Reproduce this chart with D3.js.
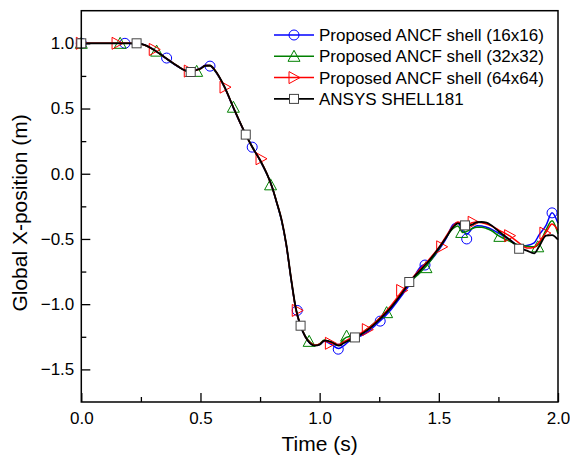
<!DOCTYPE html>
<html>
<head>
<meta charset="UTF-8">
<title>Global X-position vs time</title>
<script src="https://d3js.org/d3.v7.min.js"></script>
<style>
    body { margin: 0; background: #fff; }
    text { font-family: Arial, "Liberation Sans", sans-serif; fill: #000; }
    .tick text { font-size: 17px; }
    .axis-title { font-size: 21px; }
    .legend text { font-size: 17px; }
</style>
</head>
<body>
<div id="chart"></div>
<script>
// time samples (s), shared by all four series
const time = [0, 0.1, 0.2, 0.25, 0.3, 0.35, 0.4, 0.45, 0.5, 0.52,
    0.54, 0.56, 0.6, 0.64, 0.69, 0.72, 0.75, 0.8, 0.82, 0.84,
    0.86, 0.88, 0.9, 0.92, 0.94, 0.96, 0.98, 1.0, 1.02, 1.05,
    1.08, 1.1, 1.12, 1.15, 1.2, 1.25, 1.3, 1.35, 1.38, 1.42,
    1.46, 1.5, 1.53, 1.56, 1.58, 1.6, 1.62, 1.64, 1.66, 1.68,
    1.7, 1.72, 1.75, 1.8, 1.84, 1.87, 1.9, 1.92, 1.95, 1.975, 2.0];

const ancf16 = [1.0, 1.0, 1.0, 0.995, 0.957, 0.89, 0.828, 0.787, 0.81, 0.832,
    0.828, 0.79, 0.665, 0.495, 0.30, 0.2, 0.10, -0.10, -0.225, -0.36,
    -0.55, -0.81, -1.04, -1.17, -1.25, -1.30, -1.315, -1.31, -1.285, -1.31,
    -1.34, -1.32, -1.29, -1.265, -1.215, -1.135, -1.04, -0.92, -0.845, -0.72,
    -0.675, -0.585, -0.50, -0.39, -0.375, -0.44, -0.46, -0.42, -0.398, -0.40,
    -0.41, -0.425, -0.455, -0.51, -0.555, -0.55, -0.53, -0.47, -0.395, -0.30, -0.38];

const ancf32 = [1.0, 1.0, 1.0, 0.995, 0.953, 0.892, 0.83, 0.786, 0.806, 0.828,
    0.828, 0.792, 0.668, 0.5, 0.30, 0.198, 0.103, -0.098, -0.22, -0.355,
    -0.545, -0.805, -1.035, -1.165, -1.245, -1.29, -1.315, -1.305, -1.275, -1.295,
    -1.315, -1.27, -1.25, -1.25, -1.19, -1.11, -1.02, -0.90, -0.83, -0.76,
    -0.68, -0.575, -0.49, -0.42, -0.40, -0.45, -0.44, -0.42, -0.41, -0.41,
    -0.42, -0.435, -0.475, -0.52, -0.55, -0.555, -0.56, -0.54, -0.43, -0.36, -0.46];

const ancf64 = [1.0, 1.0, 1.0, 0.995, 0.955, 0.893, 0.83, 0.786, 0.805, 0.83,
    0.83, 0.795, 0.668, 0.5, 0.30, 0.195, 0.108, -0.10, -0.22, -0.35,
    -0.545, -0.80, -1.04, -1.16, -1.25, -1.295, -1.315, -1.305, -1.28, -1.30,
    -1.31, -1.29, -1.27, -1.245, -1.19, -1.11, -1.01, -0.89, -0.82, -0.735,
    -0.655, -0.565, -0.48, -0.40, -0.37, -0.385, -0.39, -0.375, -0.37, -0.375,
    -0.385, -0.40, -0.43, -0.48, -0.535, -0.57, -0.565, -0.525, -0.45, -0.385, -0.435];

const ansys = [1.0, 1.0, 1.0, 0.995, 0.955, 0.893, 0.83, 0.785, 0.805, 0.828,
    0.83, 0.795, 0.67, 0.5, 0.30, 0.195, 0.105, -0.10, -0.22, -0.35,
    -0.54, -0.80, -1.03, -1.165, -1.25, -1.30, -1.318, -1.31, -1.28, -1.29,
    -1.317, -1.30, -1.28, -1.255, -1.20, -1.12, -1.025, -0.905, -0.825, -0.745,
    -0.665, -0.57, -0.49, -0.41, -0.38, -0.39, -0.398, -0.39, -0.372, -0.37,
    -0.375, -0.395, -0.44, -0.51, -0.57, -0.59, -0.61, -0.56, -0.475, -0.47, -0.505];

// symbol positions [t, x] as placed on each curve
const marks16 = [[0, 1.0], [0.183, 1.0], [0.358, 0.887], [0.54, 0.825], [0.717, 0.204],
    [0.906, -1.048], [1.078, -1.345], [1.254, -1.13], [1.442, -0.70], [1.617, -0.50], [1.975, -0.30]];
const marks32 = [[0, 1.0], [0.163, 1.0], [0.316, 0.94], [0.484, 0.785], [0.638, 0.51],
    [0.794, -0.085], [0.956, -1.285], [1.113, -1.245], [1.281, -1.065], [1.446, -0.72],
    [1.596, -0.45], [1.756, -0.48], [1.915, -0.56]];
const marks64 = [[0, 1.0], [0.15, 1.0], [0.306, 0.953], [0.453, 0.787], [0.603, 0.664],
    [0.754, 0.115], [0.906, -1.048], [1.045, -1.30], [1.2, -1.195], [1.344, -0.895],
    [1.512, -0.56], [1.644, -0.372], [1.797, -0.475], [1.945, -0.455]];
const marksAnsys = [[0, 1.0], [0.232, 1.0], [0.459, 0.78], [0.69, 0.30], [0.92, -1.165],
    [1.148, -1.255], [1.376, -0.83], [1.61, -0.396], [1.837, -0.575]];

const seriesNames = ["Proposed ANCF shell (16x16)", "Proposed ANCF shell (32x32)",
    "Proposed ANCF shell (64x64)", "ANSYS SHELL181"];
const xTicks = [0, 0.5, 1.0, 1.5, 2.0];
const xMinor = [0.25, 0.75, 1.25, 1.75];
const yTicks = [-1.5, -1.0, -0.5, 0.0, 0.5, 1.0];
const yMinor = [-1.25, -0.75, -0.25, 0.25, 0.75];

const W = 570, H = 458;
const margin = { top: 10.7, right: 12, bottom: 56, left: 81.3 };
const width = W - margin.left - margin.right,
      height = H - margin.top - margin.bottom;

const svg = d3.select("#chart").append("svg")
    .attr("width", W).attr("height", H);
const g = svg.append("g")
    .attr("transform", `translate(${margin.left},${margin.top})`);

const x = d3.scaleLinear().domain([0, 2]).range([0, width]);
const y = d3.scaleLinear().domain([-1.75, 1.25]).range([height, 0]);

// axes: ticks point inward
g.append("g").attr("transform", `translate(0,${height})`)
    .call(d3.axisBottom(x).tickValues(xTicks).tickFormat(d3.format(".1f"))
        .tickSize(-9).tickPadding(10));
g.append("g").attr("transform", `translate(0,${height})`)
    .call(d3.axisBottom(x).tickValues(xMinor).tickFormat("").tickSize(-5));
g.append("g")
    .call(d3.axisLeft(y).tickValues(yTicks).tickFormat(d3.format(".1f"))
        .tickSize(-9).tickPadding(7));
g.append("g")
    .call(d3.axisLeft(y).tickValues(yMinor).tickFormat("").tickSize(-5));
g.selectAll(".domain").remove();
g.selectAll(".tick line").attr("stroke", "#000").attr("stroke-width", 1.3);

const series = [
    { name: seriesNames[0], values: ancf16, marks: marks16, color: "#0000ff", sym: "circle", lw: 1.5 },
    { name: seriesNames[1], values: ancf32, marks: marks32, color: "#008000", sym: "up", lw: 1.5 },
    { name: seriesNames[2], values: ancf64, marks: marks64, color: "#ff0000", sym: "right", lw: 1.5 },
    { name: seriesNames[3], values: ansys, marks: marksAnsys, color: "#000000", sym: "square", lw: 1.8 }
];

const line = d3.line()
    .x(d => x(d[0])).y(d => y(d[1]))
    .curve(d3.curveMonotoneX);

function drawSymbol(sel, s, cx, cy) {
    if (s.sym === "circle") {
        sel.append("circle").attr("cx", cx).attr("cy", cy).attr("r", 5)
            .attr("fill", "none").attr("stroke", s.color).attr("stroke-width", 1);
    } else if (s.sym === "up") {
        sel.append("path")
            .attr("d", `M${cx},${cy - 6}L${cx + 6},${cy + 5}L${cx - 6},${cy + 5}Z`)
            .attr("fill", "none").attr("stroke", s.color).attr("stroke-width", 1);
    } else if (s.sym === "right") {
        sel.append("path")
            .attr("d", `M${cx + 6},${cy}L${cx - 5},${cy - 6}L${cx - 5},${cy + 6}Z`)
            .attr("fill", "none").attr("stroke", s.color).attr("stroke-width", 1);
    } else {
        sel.append("rect").attr("x", cx - 4.5).attr("y", cy - 4.5)
            .attr("width", 9).attr("height", 9)
            .attr("fill", "#fff").attr("stroke", "#444").attr("stroke-width", 1);
    }
}

series.forEach(s => {
    const pts = time.map((t, i) => [t, s.values[i]]);
    g.append("path").datum(pts)
        .attr("fill", "none").attr("stroke", s.color)
        .attr("stroke-width", s.lw).attr("d", line);
    const mg = g.append("g");
    s.marks.forEach(m => drawSymbol(mg, s, x(m[0]), y(m[1])));
});

// frame
g.append("rect").attr("width", width).attr("height", height)
    .attr("fill", "none").attr("stroke", "#000").attr("stroke-width", 1.5);

// legend
const legend = svg.append("g").attr("class", "legend");
series.forEach((s, i) => {
    const ly = 35 + i * 21.3;
    legend.append("line").attr("x1", 274).attr("x2", 314)
        .attr("y1", ly).attr("y2", ly)
        .attr("stroke", s.color).attr("stroke-width", s.lw);
    drawSymbol(legend, s, 294, ly);
    legend.append("text").attr("x", 319).attr("y", ly + 6).text(s.name);
});

// axis titles
svg.append("text").attr("class", "axis-title")
    .attr("x", margin.left + width / 2).attr("y", 451)
    .attr("text-anchor", "middle").text("Time (s)");
svg.append("text").attr("class", "axis-title")
    .attr("transform", "translate(27,213) rotate(-90)")
    .attr("text-anchor", "middle").text("Global X-position (m)");
</script>
</body>
</html>
